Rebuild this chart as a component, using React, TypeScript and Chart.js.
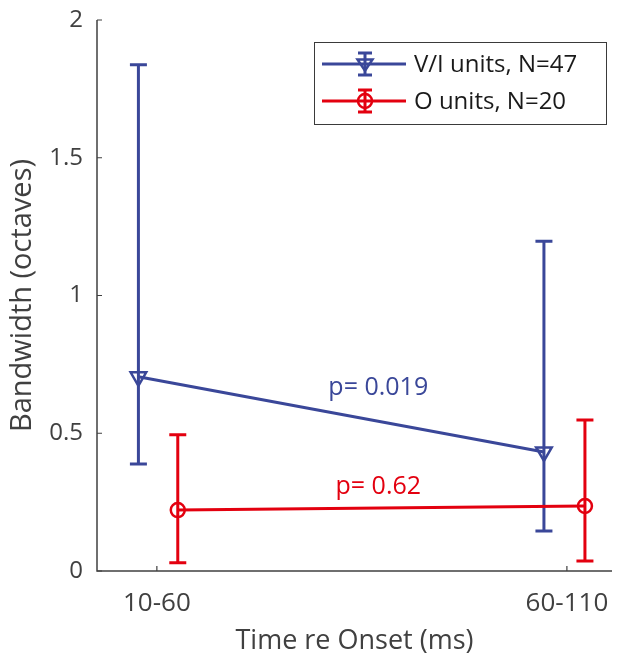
import React, { useEffect, useRef } from 'react';
import { Chart, registerables } from 'chart.js';
Chart.register(...registerables);

const categories = ['10-60', '60-110'];
const categoryPositions = [1, 2];
const viOffsets = [-0.045, -0.056];
const viMean = [0.705, 0.432];
const viUpper = [1.838, 1.197];
const viLower = [0.388, 0.145];
const oOffsets = [0.051, 0.044];
const oMean = [0.221, 0.236];
const oUpper = [0.495, 0.548];
const oLower = [0.03, 0.036];
const yTicks = [0, 0.5, 1, 1.5, 2];
const pLabels = ['p= 0.019', 'p= 0.62'];
const pLabelX = [1.54, 1.54];
const pLabelY = [0.663, 0.304];
const legendLabels = ['V/I units, N=47', 'O units, N=20'];

const BLUE = '#3A4799';
const RED = '#E3000F';
const AXIS = '#404040';
const FONT = '"Open Sans", sans-serif';

const viX = categoryPositions.map((c, i) => c + viOffsets[i]);
const oX = categoryPositions.map((c, i) => c + oOffsets[i]);

function drawTriangleDown(ctx: CanvasRenderingContext2D, cx: number, cy: number, r: number) {
  ctx.beginPath();
  ctx.moveTo(cx - r, cy - r * 0.6);
  ctx.lineTo(cx + r, cy - r * 0.6);
  ctx.lineTo(cx, cy + r * 0.9);
  ctx.closePath();
  ctx.stroke();
}

const customPlugin = {
  id: 'custom',
  beforeDatasetsDraw(chart: any) {
    const { ctx, scales } = chart;
    const x = scales.x, y = scales.y;
    const bars = (xs: number[], lo: number[], hi: number[], color: string) => {
      ctx.save();
      ctx.strokeStyle = color;
      ctx.lineWidth = 3;
      xs.forEach((xv, i) => {
        const px = x.getPixelForValue(xv);
        const pl = y.getPixelForValue(lo[i]);
        const ph = y.getPixelForValue(hi[i]);
        ctx.beginPath();
        ctx.moveTo(px, pl); ctx.lineTo(px, ph);
        ctx.moveTo(px - 8.5, pl); ctx.lineTo(px + 8.5, pl);
        ctx.moveTo(px - 8.5, ph); ctx.lineTo(px + 8.5, ph);
        ctx.stroke();
      });
      ctx.restore();
    };
    bars(viX, viLower, viUpper, BLUE);
    bars(oX, oLower, oUpper, RED);
  },
  afterDraw(chart: any) {
    const { ctx, chartArea, scales } = chart;
    const x = scales.x, y = scales.y;
    ctx.save();
    ctx.strokeStyle = AXIS;
    ctx.lineWidth = 1.5;
    ctx.beginPath();
    ctx.moveTo(chartArea.left, chartArea.top);
    ctx.lineTo(chartArea.left, chartArea.bottom);
    ctx.lineTo(chartArea.right, chartArea.bottom);
    ctx.stroke();
    ctx.lineWidth = 1.2;
    ctx.beginPath();
    yTicks.forEach((t) => {
      const py = y.getPixelForValue(t);
      ctx.moveTo(chartArea.left, py); ctx.lineTo(chartArea.left + 5, py);
    });
    categoryPositions.forEach((c) => {
      const px = x.getPixelForValue(c);
      ctx.moveTo(px, chartArea.bottom); ctx.lineTo(px, chartArea.bottom - 5);
    });
    ctx.stroke();

    ctx.font = `25px ${FONT}`;
    ctx.textAlign = 'center';
    ctx.textBaseline = 'middle';
    [BLUE, RED].forEach((col, i) => {
      ctx.fillStyle = col;
      ctx.fillText(pLabels[i], x.getPixelForValue(pLabelX[i]), y.getPixelForValue(pLabelY[i]));
    });

    const bx = chartArea.right - 298, by = chartArea.top + 22, bw = 292, bh = 82;
    ctx.fillStyle = '#ffffff';
    ctx.fillRect(bx, by, bw, bh);
    ctx.strokeStyle = '#3a3a3a';
    ctx.lineWidth = 1;
    ctx.strokeRect(bx + 0.5, by + 0.5, bw, bh);
    const rows = [by + 22, by + 59];
    [BLUE, RED].forEach((col, i) => {
      const ry = rows[i];
      ctx.strokeStyle = col;
      ctx.lineWidth = 3;
      ctx.beginPath();
      ctx.moveTo(bx + 8, ry); ctx.lineTo(bx + 92, ry);
      const mx = bx + 51;
      ctx.moveTo(mx, ry - 11); ctx.lineTo(mx, ry + 11);
      ctx.moveTo(mx - 7, ry - 11); ctx.lineTo(mx + 7, ry - 11);
      ctx.moveTo(mx - 7, ry + 11); ctx.lineTo(mx + 7, ry + 11);
      ctx.stroke();
      ctx.lineWidth = 2.5;
      if (i === 0) {
        drawTriangleDown(ctx, mx, ry, 7.5);
      } else {
        ctx.beginPath();
        ctx.arc(mx, ry, 7, 0, Math.PI * 2);
        ctx.stroke();
      }
      ctx.fillStyle = '#1a1a1a';
      ctx.textAlign = 'left';
      ctx.textBaseline = 'middle';
      ctx.font = `24px ${FONT}`;
      ctx.fillText(legendLabels[i], bx + 100, ry + 1);
    });
    ctx.restore();
  },
};

export default function App() {
  const ref = useRef<HTMLCanvasElement | null>(null);
  useEffect(() => {
    if (!ref.current) return;
    const chart = new Chart(ref.current, {
      type: 'scatter',
      data: {
        datasets: [
          {
            label: legendLabels[0],
            data: viX.map((xv, i) => ({ x: xv, y: viMean[i] })),
            showLine: true,
            borderColor: BLUE,
            backgroundColor: 'rgba(0,0,0,0)',
            borderWidth: 3,
            pointStyle: 'triangle',
            rotation: 180,
            pointRadius: 9,
            pointBorderWidth: 2.5,
            pointBorderColor: BLUE,
            pointBackgroundColor: 'rgba(0,0,0,0)',
          },
          {
            label: legendLabels[1],
            data: oX.map((xv, i) => ({ x: xv, y: oMean[i] })),
            showLine: true,
            borderColor: RED,
            backgroundColor: 'rgba(0,0,0,0)',
            borderWidth: 3,
            pointStyle: 'circle',
            pointRadius: 7,
            pointBorderWidth: 2.5,
            pointBorderColor: RED,
            pointBackgroundColor: 'rgba(0,0,0,0)',
          },
        ],
      },
      options: {
        animation: false,
        responsive: false,
        maintainAspectRatio: false,
        layout: { autoPadding: false, padding: { top: 12, right: 1, left: 0, bottom: 0 } },
        plugins: { legend: { display: false }, tooltip: { enabled: false } },
        scales: {
          x: {
            type: 'linear',
            min: 0.854,
            max: 2.11,
            afterBuildTicks: (s: any) => { s.ticks = categoryPositions.map((v) => ({ value: v })); },
            afterFit: (s: any) => { s.height = 84; s.paddingLeft = 0; s.paddingRight = 0; },
            grid: { display: false, drawTicks: false },
            border: { display: false },
            ticks: {
              padding: 17,
              color: AXIS,
              font: { family: FONT, size: 26 },
              callback: (v: any) => categories[categoryPositions.indexOf(Number(v))] ?? '',
            },
            title: {
              display: true,
              text: 'Time re Onset (ms)',
              color: AXIS,
              font: { family: FONT, size: 27, lineHeight: 1 },
              padding: { top: 0, bottom: 0 },
            },
          },
          y: {
            min: 0,
            max: 2,
            afterBuildTicks: (s: any) => { s.ticks = yTicks.map((v) => ({ value: v })); },
            afterFit: (s: any) => { s.width = 89; s.paddingTop = 0; s.paddingBottom = 0; },
            grid: { display: false, drawTicks: false },
            border: { display: false },
            ticks: {
              padding: 14,
              color: AXIS,
              font: { family: FONT, size: 24 },
              callback: (v: any) => String(v),
            },
            title: {
              display: true,
              text: 'Bandwidth (octaves)',
              color: AXIS,
              font: { family: FONT, size: 29, lineHeight: 1 },
              padding: { top: 0, bottom: 0 },
            },
          },
        },
      },
      plugins: [customPlugin],
    } as any);
    return () => chart.destroy();
  }, []);
  return (
    <div style={{ width: 605, height: 647 }}>
      <canvas ref={ref} width={605} height={647} style={{ display: 'block' }} />
    </div>
  );
}
